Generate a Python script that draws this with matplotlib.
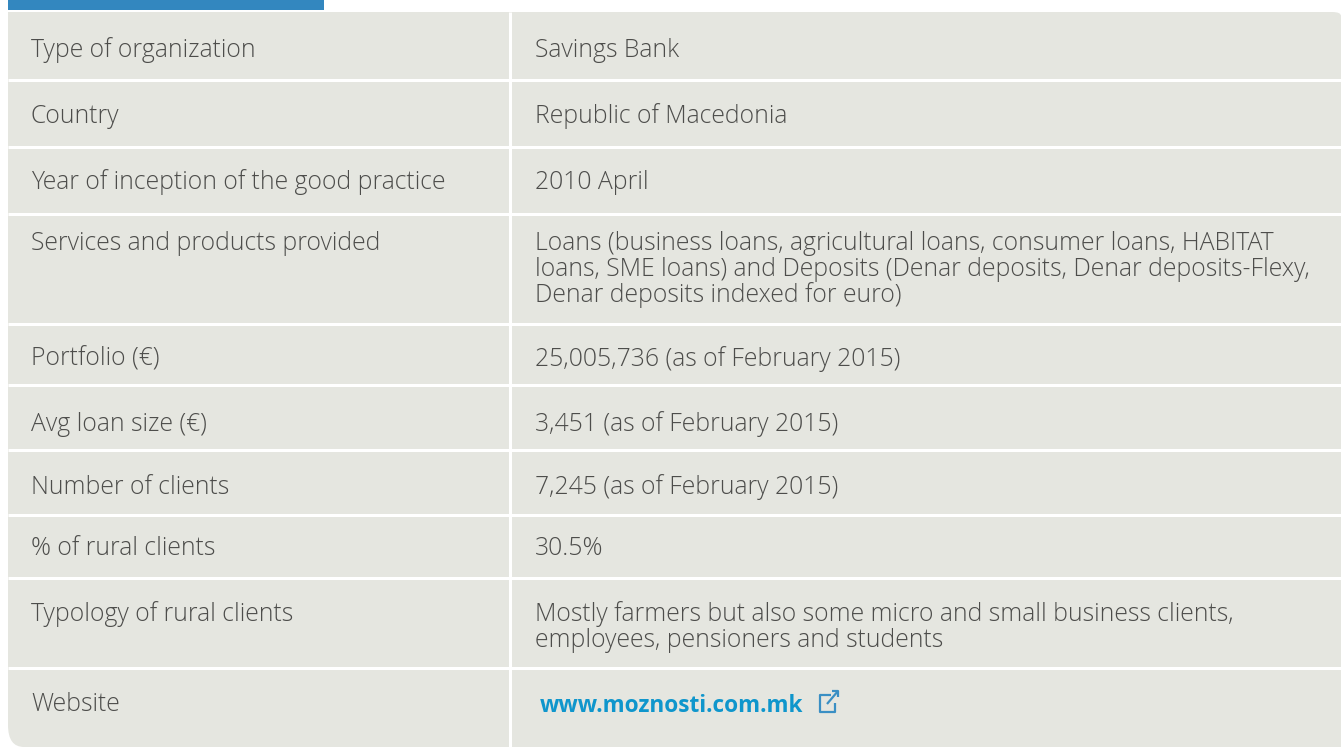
import matplotlib
matplotlib.use("Agg")
import matplotlib.pyplot as plt
from matplotlib.patches import PathPatch, Rectangle
from matplotlib.path import Path

# table content
row_labels = ["Type of organization", "Country", "Year of inception of the good practice",
              "Services and products provided", "Portfolio (€)", "Avg loan size (€)",
              "Number of clients", "% of rural clients", "Typology of rural clients", "Website"]
row_values = ["Savings Bank", "Republic of Macedonia", "2010 April",
              "Loans (business loans, agricultural loans, consumer loans, HABITAT\n"
              "loans, SME loans) and Deposits (Denar deposits, Denar deposits-Flexy,\n"
              "Denar deposits indexed for euro)",
              "25,005,736 (as of February 2015)", "3,451 (as of February 2015)",
              "7,245 (as of February 2015)", "30.5%",
              "Mostly farmers but also some micro and small business clients,\n"
              "employees, pensioners and students",
              ""]
link_text = "www.moznosti.com.mk"

# pixel layout, text y is the baseline
W, H = 1341, 747
row_lines = [80, 147, 214, 324, 385, 450, 515, 578, 668]
label_y = [57, 123, 189, 250, 366, 431, 494, 555, 621, 711]
value_y = [57, 123, 189, 250, 366, 431, 494, 555, 621, 711]

GREY = "#e5e6e0"
TEXT = "#4d4d4b"
FONT = "Open Sans"
SIZE = 17.8

fig = plt.figure(figsize=(W / 100, H / 100), dpi=100, facecolor="white")
ax = fig.add_axes([0, 0, 1, 1])
ax.set_xlim(0, W)
ax.set_ylim(H, 0)
ax.axis("off")

# header tab
ax.add_patch(Rectangle((8, 0), 316, 10, fc="#3387bf", ec="none"))

# grey panel: square top left, small round top right, round bottom left
verts = [(8, 12), (1332, 12), (1341, 12), (1341, 16), (1341, 747), (24, 747), (8, 747), (8, 725), (8, 12)]
codes = [Path.MOVETO, Path.LINETO, Path.CURVE3, Path.CURVE3, Path.LINETO, Path.LINETO,
         Path.CURVE3, Path.CURVE3, Path.CLOSEPOLY]
ax.add_patch(PathPatch(Path(verts, codes), fc=GREY, ec="none"))

# white row and column separators
for y in row_lines:
    ax.plot([8, W], [y, y], color="white", lw=2.2, solid_capstyle="butt")
ax.plot([510, 510], [12, H], color="white", lw=2.2, solid_capstyle="butt")

for lab, val, ly, vy in zip(row_labels, row_values, label_y, value_y):
    ax.text(31, ly, lab, fontsize=SIZE, family=FONT, weight="light", color=TEXT, va="baseline", ha="left")
    # multi line cells are stepped by hand to keep the 26 px pitch
    for i, line in enumerate(val.split("\n")):
        ax.text(535, vy + i * 26, line, fontsize=SIZE, family=FONT, weight="light", color=TEXT,
                va="baseline", ha="left")

ax.text(540, 712, link_text, fontsize=16.3, family=FONT, weight="bold", color="#0f96cc", va="baseline", ha="left")

# external link icon
ax.plot([831, 820, 820, 835, 835], [695, 695, 712, 712, 703], color="#3a8fc4", lw=1.6, solid_capstyle="butt")
ax.plot([827, 838], [704, 691], color="#3a8fc4", lw=1.6, solid_capstyle="butt")
ax.plot([832, 838, 838], [691, 691, 697], color="#3a8fc4", lw=1.6, solid_capstyle="butt")

fig.savefig("out.png", dpi=100)
